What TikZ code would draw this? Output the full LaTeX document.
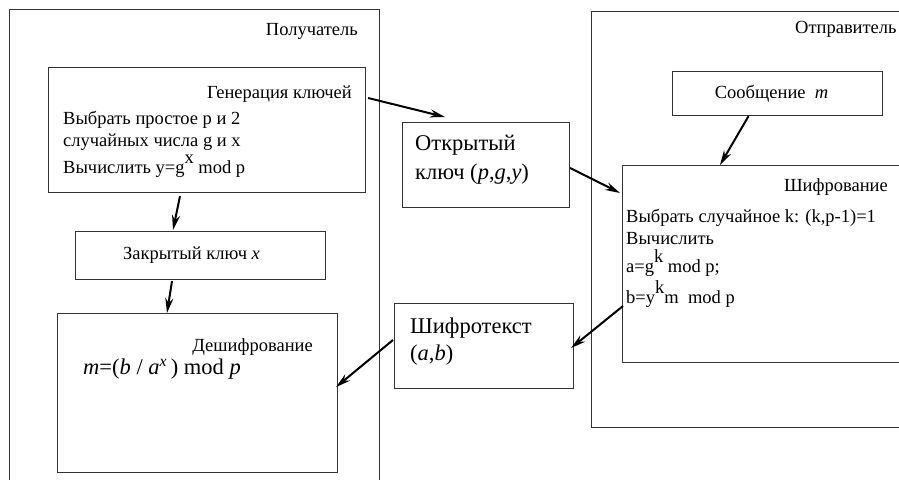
\documentclass[tikz,border=0pt]{standalone}
\usepackage{fontspec}
\setmainfont{Liberation Serif}
\usetikzlibrary{arrows.meta, positioning, calc}

\newcommand{\upidx}[2][10pt]{\raisebox{#1}{#2}}

\begin{document}
\begin{tikzpicture}[
    x=1pt, y=-1pt,
    box/.style={rectangle, draw=black!80, line width=1.1pt, anchor=north west, inner sep=0pt},
    txt/.style={font=\fontsize{18.5}{22}\selectfont, inner sep=0pt},
    bigtxt/.style={font=\fontsize{22.5}{28}\selectfont, inner sep=0pt},
    arr/.style={-{Stealth[length=15pt, width=8pt, inset=5pt]}, line width=2pt, draw=black}
]
\useasboundingbox (0,0) rectangle (899,479);

%% ===== OUTER FRAMES =====
\node[box, minimum width=370, minimum height=480] (recv) at (9,9) {};
\node[box, minimum width=320, minimum height=416] (send) at (591,11) {};
\node[txt, anchor=base east] (recvlbl) at (358,35) {Получатель};
\node[txt, anchor=base west] (sendlbl) at (795,33) {Отправитель};

%% ===== RECEIVER SIDE =====
\node[box, minimum width=317, minimum height=125] (gen) at (48,67) {};
\node[txt, anchor=base east] (gentitle) at (352,98)  {Генерация ключей};
\node[txt, anchor=base west] (genl1)    at (63,124)  {Выбрать простое p и 2};
\node[txt, anchor=base west] (genl2)    at (63,146)  {случайных числа g и x};
\node[txt, anchor=base west] (genl3)    at (63,173)  {Вычислить y=g\upidx{x} mod p};

\node[box, minimum width=250, minimum height=48] (ckey) at (75,231) {};
\node[txt] (ckeytxt) at ($(ckey.center)+(-9,0)$) {Закрытый ключ \textit{x}};

\node[box, minimum width=280, minimum height=159] (dec) at (57,313) {};
\node[txt, anchor=base east] (dectitle) at (313,351) {Дешифрование};
\node[bigtxt, anchor=base west] (decform) at (83,374)
    {\textit{m}=(\textit{b} / \textit{a}\textsuperscript{\textit{x}}\,) mod \textit{p}};

%% ===== CHANNEL =====
\node[box, minimum width=167, minimum height=85] (okey) at (402,122) {};
\node[bigtxt, anchor=base west] (okeyl1) at (415,150) {Открытый};
\node[bigtxt, anchor=base west] (okeyl2) at (415,179) {ключ (\textit{p},\textit{g},\textit{y})};

\node[box, minimum width=179, minimum height=85] (ciph) at (394,303) {};
\node[bigtxt, anchor=base west] (ciphl1) at (410,333) {Шифротекст};
\node[bigtxt, anchor=base west] (ciphl2) at (410,360) {(\textit{a},\textit{b})};

%% ===== SENDER SIDE =====
\node[box, minimum width=210, minimum height=44] (msg) at (672,71) {};
\node[txt] (msgtxt) at ($(msg.center)+(-6,0)$) {Сообщение \ \textit{m}};

\node[box, minimum width=290, minimum height=197] (enc) at (622,165) {};
\node[txt, anchor=base east] (enctitle) at (888,191) {Шифрование};
\node[txt, anchor=base west] (encl1) at (626,222) {Выбрать случайное k: (k,p-1)=1};
\node[txt, anchor=base west] (encl2) at (626,244) {Вычислить};
\node[txt, anchor=base west] (encl3) at (626,272) {a=g\upidx{k} mod p;};
\node[txt, anchor=base west] (encl4) at (626,303) {b=y\upidx{k}m \ mod p};

%% ===== ARROWS =====
\draw[arr] ($(gen.north east)+(2,31)$)   -- ($(okey.north west)+(43,-5)$);
\draw[arr] ($(okey.north east)+(0,46)$)  -- ($(enc.north west)+(-2,28)$);
\draw[arr] ($(msg.south)+(-29,0)$)       -- ($(enc.north west)+(98,0)$);
\draw[arr] ($(enc.north west)+(1,141)$)  -- ($(ciph.north east)+(-3,45)$);
\draw[arr] ($(ciph.north west)+(-1,37)$) -- ($(dec.north east)+(-2,74)$);
\draw[arr] ($(gen.south west)+(132,3)$)  -- ($(ckey.north west)+(98,-1)$);
\draw[arr] ($(ckey.south west)+(97,1)$)  -- ($(dec.north west)+(110,0)$);

\end{tikzpicture}
\end{document}
